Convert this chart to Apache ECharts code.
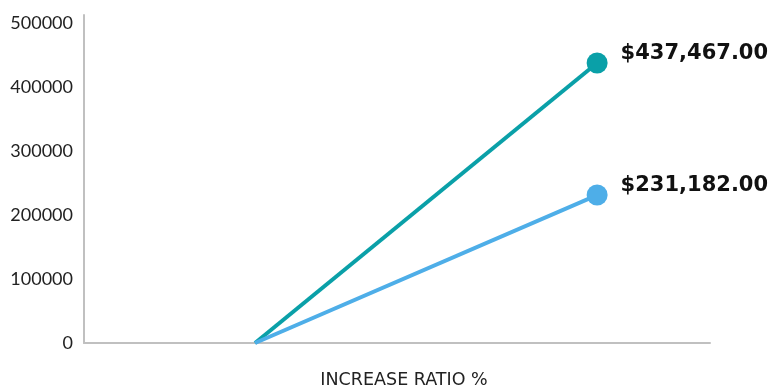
<!DOCTYPE html>
<html>
<head>
<meta charset="utf-8">
<script src="https://cdn.jsdelivr.net/npm/echarts@6/dist/echarts.min.js"></script>
<style>html,body{margin:0;padding:0;background:#fff}#c{width:773px;height:387px}</style>
</head>
<body>
<div id="c"></div>
<script>
var xPositions = [0, 1];
var seriesNames = ['Total', 'Base'];
var totalValues = [0, 437467];
var baseValues = [0, 231182];
var seriesColors = ['#0aa0a8', '#4eaee8'];
var xAxisName = 'INCREASE RATIO %';

function fmt(v) {
  return '$' + v.toLocaleString('en-US', {minimumFractionDigits: 2, maximumFractionDigits: 2});
}
function build(values) {
  return values.map(function (v, i) {
    var last = i === values.length - 1;
    return {
      value: [xPositions[i], v],
      symbolSize: last ? 21 : 0,
      label: {show: last}
    };
  });
}
function makeSeries(name, values, color) {
  return {
    name: name,
    type: 'line',
    data: build(values),
    symbol: 'circle',
    showSymbol: true,
    lineStyle: {width: 4, color: color},
    itemStyle: {color: color},
    label: {
      position: 'right',
      distance: 13,
      offset: [0, -9],
      formatter: function (p) { return fmt(p.value[1]); },
      fontFamily: 'DejaVu Sans',
      fontWeight: 'bold',
      fontSize: 21,
      color: '#111'
    },
    emphasis: {disabled: true},
    animation: false
  };
}
var chart = echarts.init(document.getElementById('c'));
chart.setOption({
  animation: false,
  grid: {left: 84, right: 63, top: 15, bottom: 44, containLabel: false, outerBoundsMode: 'none'},
  xAxis: {
    type: 'value',
    min: -0.5,
    max: 1.33,
    name: xAxisName,
    nameLocation: 'middle',
    nameGap: 28,
    nameTextStyle: {fontFamily: 'DejaVu Sans', fontSize: 17.5, color: '#222', padding: [0, 0, 0, 14]},
    axisLine: {show: true, onZero: false, lineStyle: {color: '#c0c0c0', width: 2}},
    axisTick: {show: false},
    axisLabel: {show: false},
    splitLine: {show: false}
  },
  yAxis: {
    type: 'value',
    min: 0,
    max: 512500,
    interval: 100000,
    axisLine: {show: true, onZero: false, lineStyle: {color: '#c0c0c0', width: 2}},
    axisTick: {show: false},
    splitLine: {show: false},
    axisLabel: {
      showMaxLabel: false,
      margin: 11,
      fontFamily: 'Lato',
      fontSize: 18,
      color: '#222',
      formatter: function (v) { return String(v); }
    }
  },
  series: [
    makeSeries(seriesNames[0], totalValues, seriesColors[0]),
    makeSeries(seriesNames[1], baseValues, seriesColors[1])
  ]
});
</script>
</body>
</html>
